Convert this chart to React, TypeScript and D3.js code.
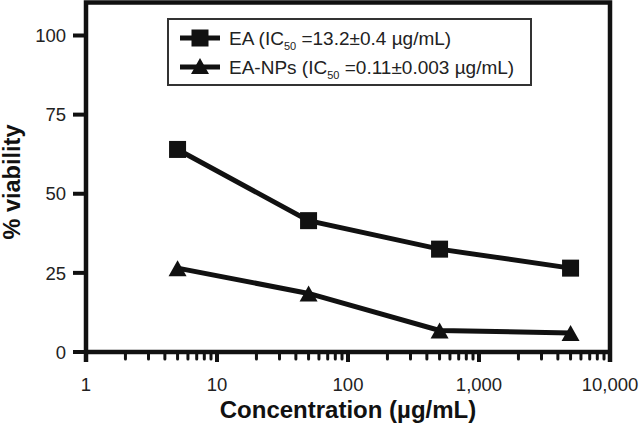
import React from "react";
import * as d3 from "d3";

const concentrations = [5, 50, 500, 5000];
const eaViability = [64, 41.5, 32.5, 26.5];
const eaNpViability = [26.5, 18.5, 6.8, 6];
const yTicks = [0, 25, 50, 75, 100];
const xMajorTicks = [1, 10, 100, 1000, 10000];
const xTickLabels = ["1", "10", "100", "1,000", "10,000"];
const legendLabels = [
  { name: "EA (IC", sub: "50", rest: " =13.2±0.4 µg/mL)" },
  { name: "EA-NPs (IC", sub: "50", rest: " =0.11±0.003 µg/mL)" },
];

const FONT = "'Liberation Sans', Arial, Helvetica, sans-serif";

export default function App() {
  const W = 639;
  const H = 426;
  const x = d3.scaleLog().domain([1, 10000]).range([86, 610]);
  const y = d3.scaleLinear().domain([0, 100]).range([352, 35.5]);
  const yTop = 2.5;
  const line = d3
    .line<[number, number]>()
    .x((d) => x(d[0]))
    .y((d) => y(d[1]));
  const eaPts: [number, number][] = concentrations.map((c, i) => [c, eaViability[i]]);
  const npPts: [number, number][] = concentrations.map((c, i) => [c, eaNpViability[i]]);
  const minor = x.ticks().filter((t) => !xMajorTicks.includes(t));
  const sq = 17;
  const triW = 18;
  const triH = 16;
  const tri = (cx: number, cy: number) =>
    `M${cx},${cy - triH / 2}L${cx + triW / 2},${cy + triH / 2}L${cx - triW / 2},${cy + triH / 2}Z`;

  return (
    <svg
      width={W}
      height={H}
      style={{ position: "absolute", left: 0, top: 0, background: "#fff" }}
      fontFamily={FONT}
    >
      <rect x={0} y={0} width={W} height={H} fill="#fff" />
      {/* frame */}
      <path
        d={`M${x(1)},${y(0) + 10}V${yTop}H${x(10000)}V${y(0) + 10}`}
        fill="none"
        stroke="#111"
        strokeWidth={4.5}
      />
      <line x1={x(1)} x2={x(10000)} y1={y(0)} y2={y(0)} stroke="#111" strokeWidth={4.5} />
      {/* y ticks */}
      {yTicks.map((t) => (
        <g key={t}>
          <line x1={73} x2={x(1)} y1={y(t)} y2={y(t)} stroke="#111" strokeWidth={4} />
          <text x={66} y={y(t)} dy="0.36em" textAnchor="end" fontSize={18.5} fill="#222">
            {t}
          </text>
        </g>
      ))}
      {/* x ticks */}
      {minor.map((t) => (
        <line key={t} x1={x(t)} x2={x(t)} y1={y(0)} y2={y(0) + 7} stroke="#111" strokeWidth={3} strokeLinecap="round" />
      ))}
      {xMajorTicks.map((t, i) => (
        <g key={t}>
          <line x1={x(t)} x2={x(t)} y1={y(0)} y2={y(0) + 10} stroke="#111" strokeWidth={4} />
          <text x={x(t)} y={391} textAnchor="middle" fontSize={18.5} fill="#222">
            {xTickLabels[i]}
          </text>
        </g>
      ))}
      {/* axis titles */}
      <text x={348} y={418} textAnchor="middle" fontSize={24} fontWeight="bold" fill="#111">
        Concentration (µg/mL)
      </text>
      <text
        transform={`translate(20,182) rotate(-90)`}
        textAnchor="middle"
        fontSize={23.5}
        fontWeight="bold"
        fill="#111"
      >
        % viability
      </text>
      {/* series */}
      <path d={line(eaPts) || ""} fill="none" stroke="#111" strokeWidth={5} />
      <path d={line(npPts) || ""} fill="none" stroke="#111" strokeWidth={5} />
      {eaPts.map((p, i) => (
        <rect key={i} x={x(p[0]) - sq / 2} y={y(p[1]) - sq / 2} width={sq} height={sq} fill="#111" />
      ))}
      {npPts.map((p, i) => (
        <path key={i} d={tri(x(p[0]), y(p[1]))} fill="#111" />
      ))}
      {/* legend */}
      <rect x={168} y={19} width={363} height={66} fill="#fff" stroke="#333" strokeWidth={2} />
      {legendLabels.map((l, i) => {
        const cy = 38 + i * 29;
        return (
          <g key={i}>
            <line x1={180} x2={220} y1={cy} y2={cy} stroke="#111" strokeWidth={5} />
            {i === 0 ? (
              <rect x={200 - sq / 2} y={cy - sq / 2} width={sq} height={sq} fill="#111" />
            ) : (
              <path d={tri(200, cy - 1)} fill="#111" />
            )}
            <text x={229} y={cy + 6.5} fontSize={19} fill="#222">
              {l.name}
              <tspan fontSize={11} dy={5}>{l.sub}</tspan>
              <tspan dy={-5}>{l.rest}</tspan>
            </text>
          </g>
        );
      })}
    </svg>
  );
}
